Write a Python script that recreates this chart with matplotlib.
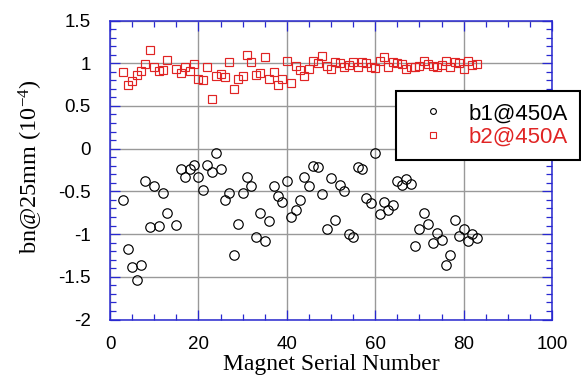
import matplotlib
matplotlib.use("Agg")
import matplotlib.pyplot as plt
from matplotlib.ticker import MultipleLocator, FuncFormatter
from matplotlib.lines import Line2D

# ---- data ----
serial = [3, 4, 5, 6, 7, 8, 9, 10, 11, 12, 13, 15, 16, 17, 18, 19, 20, 21, 22, 23,
          24, 25, 26, 27, 28, 29, 30, 31, 32, 33, 34, 35, 36, 37, 38, 39, 40, 41, 42, 43,
          44, 45, 46, 47, 48, 49, 50, 51, 52, 53, 54, 55, 56, 57, 58, 59, 60, 61, 62, 63,
          64, 65, 66, 67, 68, 69, 70, 71, 72, 73, 74, 75, 76, 77, 78, 79, 80, 81, 82, 83]

b1 = [-0.60, -1.18, -1.39, -1.54, -1.36, -0.38, -0.92, -0.44, -0.91, -0.52, -0.75, -0.89,
      -0.235, -0.33, -0.235, -0.19, -0.33, -0.485, -0.19, -0.27, -0.05, -0.235, -0.60, -0.52,
      -1.25, -0.88, -0.52, -0.33, -0.44, -1.03, -0.75, -1.08, -0.85, -0.44, -0.56, -0.63,
      -0.38, -0.80, -0.72, -0.60, -0.33, -0.44, -0.20, -0.22, -0.53, -0.94, -0.34, -0.83,
      -0.42, -0.50, -1.00, -1.03, -0.22, -0.235, -0.58, -0.64, -0.05, -0.77, -0.63, -0.72,
      -0.66, -0.38, -0.42, -0.36, -0.41, -1.14, -0.94, -0.75, -0.88, -1.11, -0.99, -1.07,
      -1.36, -1.25, -0.83, -1.02, -0.94, -1.08, -1.00, -1.05]

b2 = [0.90, 0.74, 0.79, 0.86, 0.91, 0.99, 1.16, 0.955, 0.91, 0.92, 1.04, 0.93,
      0.885, 0.955, 0.91, 0.995, 0.81, 0.80, 0.955, 0.58, 0.85, 0.87, 0.84, 1.02,
      0.70, 0.81, 0.85, 1.10, 1.02, 0.86, 0.88, 1.07, 0.81, 0.90, 0.74, 0.81,
      1.03, 0.77, 0.97, 0.92, 0.85, 0.93, 1.03, 1.00, 1.09, 0.97, 0.93, 1.01,
      1.00, 0.955, 0.98, 1.01, 0.96, 1.01, 1.00, 0.955, 0.94, 1.03, 1.07, 0.955,
      1.01, 1.00, 0.99, 0.93, 0.95, 0.95, 0.97, 1.03, 0.99, 0.97, 0.96, 0.98,
      1.03, 0.955, 1.01, 1.00, 0.93, 1.03, 0.98, 0.99]

labels = ["b1@450A", "b2@450A"]
x_ticks = [0, 20, 40, 60, 80, 100]
y_ticks = [-2, -1.5, -1, -0.5, 0, 0.5, 1, 1.5]

# ---- style ----
sans = 'Liberation Sans'
serif = 'Liberation Serif'
plt.rcParams['axes.unicode_minus'] = False
plt.rcParams['mathtext.fontset'] = 'custom'
plt.rcParams['mathtext.rm'] = serif
plt.rcParams['mathtext.it'] = serif + ':italic'
plt.rcParams['mathtext.default'] = 'rm'
BLUE = '#2828d0'
RED = '#e02424'
GRID = '#999999'

fig = plt.figure(figsize=(5.81, 3.75), dpi=100)
ax = fig.add_axes([110/581, 1-319.5/375, 442/581, 299/375])

ax.plot(serial, b1, linestyle='none', marker='o', markersize=6.8,
        markerfacecolor='none', markeredgecolor='black', markeredgewidth=0.85, zorder=3)
ax.plot(serial, b2, linestyle='none', marker='s', markersize=6.2,
        markerfacecolor='none', markeredgecolor=RED, markeredgewidth=0.85, zorder=3)

ax.set_xlim(0, 100)
ax.set_ylim(-2, 1.5)
ax.set_xticks(x_ticks)
ax.set_yticks(y_ticks)
ax.xaxis.set_minor_locator(MultipleLocator(5))
ax.yaxis.set_minor_locator(MultipleLocator(0.1))
fmt = FuncFormatter(lambda v, p: '%g' % v)
ax.xaxis.set_major_formatter(fmt)
ax.yaxis.set_major_formatter(fmt)

ax.grid(True, which='major', color=GRID, linewidth=1.0, zorder=0)
ax.set_axisbelow(True)

for s in ax.spines.values():
    s.set_color(BLUE)
    s.set_linewidth(1.1)

ax.tick_params(which='both', direction='in', top=True, right=True, colors=BLUE,
               labelcolor='black')
ax.tick_params(which='major', length=7.5, width=0.9)
ax.tick_params(which='minor', length=4, width=0.9)
ax.tick_params(axis='y', which='major', pad=14)
ax.tick_params(axis='x', which='major', pad=12)
for lab in ax.get_xticklabels() + ax.get_yticklabels():
    lab.set_fontfamily(sans)
    lab.set_fontsize(13.5)

ax.set_xlabel('Magnet Serial Number', fontfamily=serif, fontsize=17, labelpad=0.5)
ax.set_ylabel(r'bn@25mm (10$^{-4}$)', fontfamily=serif, fontsize=17.5)
ax.yaxis.set_label_coords(-0.148, 0.51)

handles = [
    Line2D([], [], linestyle='none', marker='o', markersize=4.2, markerfacecolor='none',
           markeredgecolor='black', markeredgewidth=0.8),
    Line2D([], [], linestyle='none', marker='s', markersize=4.5, markerfacecolor='none',
           markeredgecolor=RED, markeredgewidth=0.8),
]
leg = fig.legend(handles, labels, loc='upper left',
                 bbox_to_anchor=(396/581, 1-91/375), bbox_transform=fig.transFigure,
                 prop={'family': sans, 'size': 16}, frameon=True, fancybox=False,
                 framealpha=1, edgecolor='black', borderpad=0.55, handlelength=2.2,
                 handletextpad=0.5, labelspacing=0.1, borderaxespad=0)
leg.get_frame().set_linewidth(1.5)
leg.get_texts()[0].set_color('black')
leg.get_texts()[1].set_color(RED)

fig.savefig('out.png', dpi=100)
